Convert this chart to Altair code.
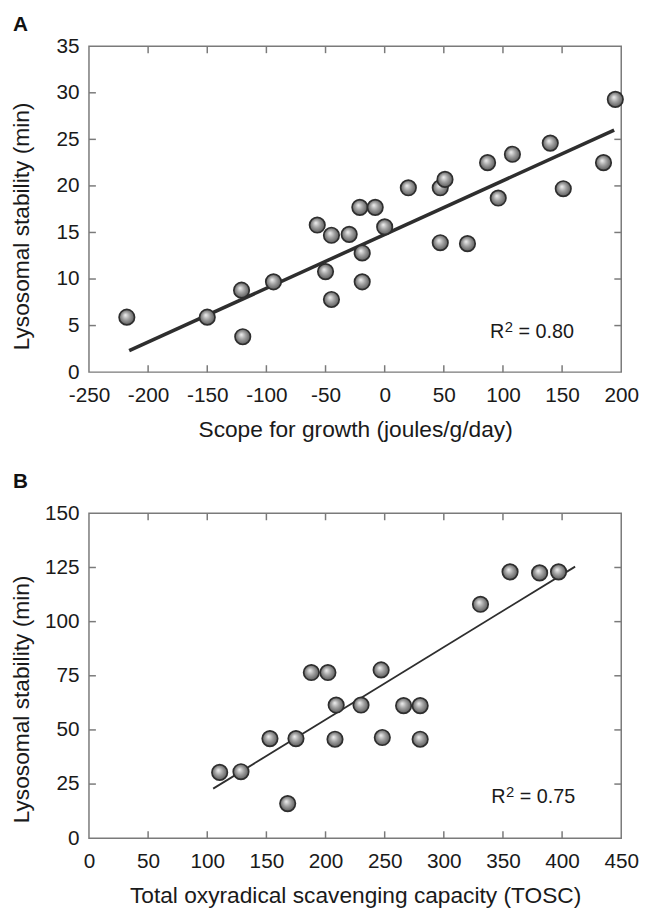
import altair as alt
import pandas as pd

# ---------------- Panel A data ----------------
a_x = [-218, -150, -121, -120, -94, -57, -50, -45, -45, -30, -21, -8, -19, -19, 0,
       20, 47, 51, 47, 70, 87, 96, 108, 140, 151, 185, 195]
a_y = [5.9, 5.9, 8.8, 3.8, 9.7, 15.8, 10.8, 14.7, 7.8, 14.8, 17.7, 17.7, 12.8, 9.7, 15.6,
       19.8, 19.8, 20.7, 13.9, 13.8, 22.5, 18.7, 23.4, 24.6, 19.7, 22.5, 29.3]
a_fit_x = [-216, 194]
a_fit_y = [2.3, 26.0]
a_xticks = [-200, -150, -100, -50, 0, 50, 100, 150]
a_yticks = [5, 10, 15, 20, 25, 30]
a_xlabels = [-250, -200, -150, -100, -50, 0, 50, 100, 150, 200]
a_ylabels = [0, 5, 10, 15, 20, 25, 30, 35]
a_r2_value = "= 0.80"
a_r2_pos = (89, 3.7)

# ---------------- Panel B data ----------------
b_x = [110.5, 128.5, 153, 168, 175, 188, 202, 208, 209, 230, 247, 248, 266, 280, 280,
       331, 356, 381, 397]
b_y = [30.4, 30.7, 46, 16, 46, 76.5, 76.5, 45.7, 61.5, 61.5, 77.7, 46.5, 61.2, 61.2, 45.7,
       108, 123, 122.5, 123]
b_fit_x = [105, 411]
b_fit_y = [22.9, 125.4]
b_xticks = [50, 100, 150, 200, 250, 300, 350, 400]
b_yticks = [25, 50, 75, 100, 125]
b_xlabels = [0, 50, 100, 150, 200, 250, 300, 350, 400, 450]
b_ylabels = [0, 25, 50, 75, 100, 125, 150]
b_r2_value = "= 0.75"
b_r2_pos = (340, 16.4)

FONT = "Liberation Sans"
W = 539
TICK = 7
FRAME = "#7a7a7a"
TXT = "#1a1a1a"

sphere = alt.Gradient(
    gradient="radial",
    x1=0.4, y1=0.36, r1=0.0,
    x2=0.5, y2=0.5, r2=0.55,
    stops=[
        alt.GradientStop(offset=0.0, color="#f2f2f2"),
        alt.GradientStop(offset=0.45, color="#a2a2a2"),
        alt.GradientStop(offset=0.85, color="#676767"),
        alt.GradientStop(offset=1.0, color="#444444"),
    ],
)


def panel(px, py, fx, fy, xt, yt, xl, yl, xdom, ydom, xtitle, letter, r2v, r2pos,
          lw, h, ytitle_y, letter_offset):
    pts = pd.DataFrame({"x": px, "y": py})
    fit = pd.DataFrame({"x": fx, "y": fy})
    xtk = pd.DataFrame({"v": xt})
    ytk = pd.DataFrame({"v": yt})
    lab = pd.DataFrame({"x": [r2pos[0]], "y": [r2pos[1]], "r": ["R"], "s": ["2"],
                        "t": [r2v]})

    xs = alt.Scale(domain=xdom, nice=False, zero=False)
    ys = alt.Scale(domain=ydom, nice=False, zero=False)

    xax = alt.Axis(values=xl, title=xtitle, ticks=False, domain=False, grid=False,
                   labelFlush=False, labelPadding=13, titlePadding=13,
                   labelExpr="toString(datum.value)")
    yax = alt.Axis(values=yl, title="Lysosomal stability (min)", ticks=False, domain=False,
                   grid=False, labelPadding=10, titleX=-68, titleY=ytitle_y,
                   titleBaseline="middle", titleAlign="center", titleAngle=270)

    points = alt.Chart(pts).mark_point(
        shape="circle", size=245, filled=True, fill=sphere, stroke="#2e2e2e",
        strokeWidth=1.7, opacity=1
    ).encode(
        x=alt.X("x:Q", scale=xs, axis=xax),
        y=alt.Y("y:Q", scale=ys, axis=yax),
    )

    line = alt.Chart(fit).mark_line(color="#2e2e2e", strokeWidth=lw).encode(
        x=alt.X("x:Q", scale=xs), y=alt.Y("y:Q", scale=ys)
    )

    bt = alt.Chart(xtk).mark_rule(color=FRAME, strokeWidth=1.5).encode(
        x=alt.X("v:Q", scale=xs), y=alt.value(h), y2=alt.value(h - TICK))
    tt = alt.Chart(xtk).mark_rule(color=FRAME, strokeWidth=1.5).encode(
        x=alt.X("v:Q", scale=xs), y=alt.value(0), y2=alt.value(TICK))
    lt = alt.Chart(ytk).mark_rule(color=FRAME, strokeWidth=1.5).encode(
        y=alt.Y("v:Q", scale=ys), x=alt.value(0), x2=alt.value(TICK))
    rt = alt.Chart(ytk).mark_rule(color=FRAME, strokeWidth=1.5).encode(
        y=alt.Y("v:Q", scale=ys), x=alt.value(W), x2=alt.value(W - TICK))

    base_txt = alt.Chart(lab).encode(x=alt.X("x:Q", scale=xs), y=alt.Y("y:Q", scale=ys))
    t_r = base_txt.mark_text(align="left", baseline="alphabetic", font=FONT,
                             fontSize=20, color=TXT).encode(text="r:N")
    t_s = base_txt.mark_text(align="left", baseline="alphabetic", font=FONT,
                             fontSize=15, color=TXT, dx=15, dy=-6).encode(text="s:N")
    t_v = base_txt.mark_text(align="left", baseline="alphabetic", font=FONT,
                             fontSize=20, color=TXT, dx=29).encode(text="t:N")

    return alt.layer(bt, tt, lt, rt, line, points, t_r, t_s, t_v).properties(
        width=W, height=h,
        title=alt.TitleParams(letter, anchor="start", frame="bounds", fontSize=21,
                              fontWeight="bold", font=FONT, color="#111111",
                              offset=letter_offset, dx=2),
    )


pa = panel(a_x, a_y, a_fit_x, a_fit_y, a_xticks, a_yticks, a_xlabels, a_ylabels,
           [-250, 200], [0, 35], "Scope for growth (joules/g/day)", "A", a_r2_value,
           a_r2_pos, 3.6, 330, 182, 0)
pb = panel(b_x, b_y, b_fit_x, b_fit_y, b_xticks, b_yticks, b_xlabels, b_ylabels,
           [0, 450], [0, 150], "Total oxyradical scavenging capacity (TOSC)", "B",
           b_r2_value, b_r2_pos, 1.8, 329, 188, 11)

chart = alt.vconcat(pa, pb, spacing=28).properties(
    padding={"left": 2, "top": 0, "right": 0, "bottom": 0}
).configure_view(
    stroke=FRAME, strokeWidth=1.5
).configure_axis(
    labelFont=FONT, titleFont=FONT, labelFontSize=21, titleFontSize=23,
    labelColor=TXT, titleColor=TXT, titleFontWeight="normal"
)

chart.save("out.html", embed_options={"renderer": "svg", "actions": False})
